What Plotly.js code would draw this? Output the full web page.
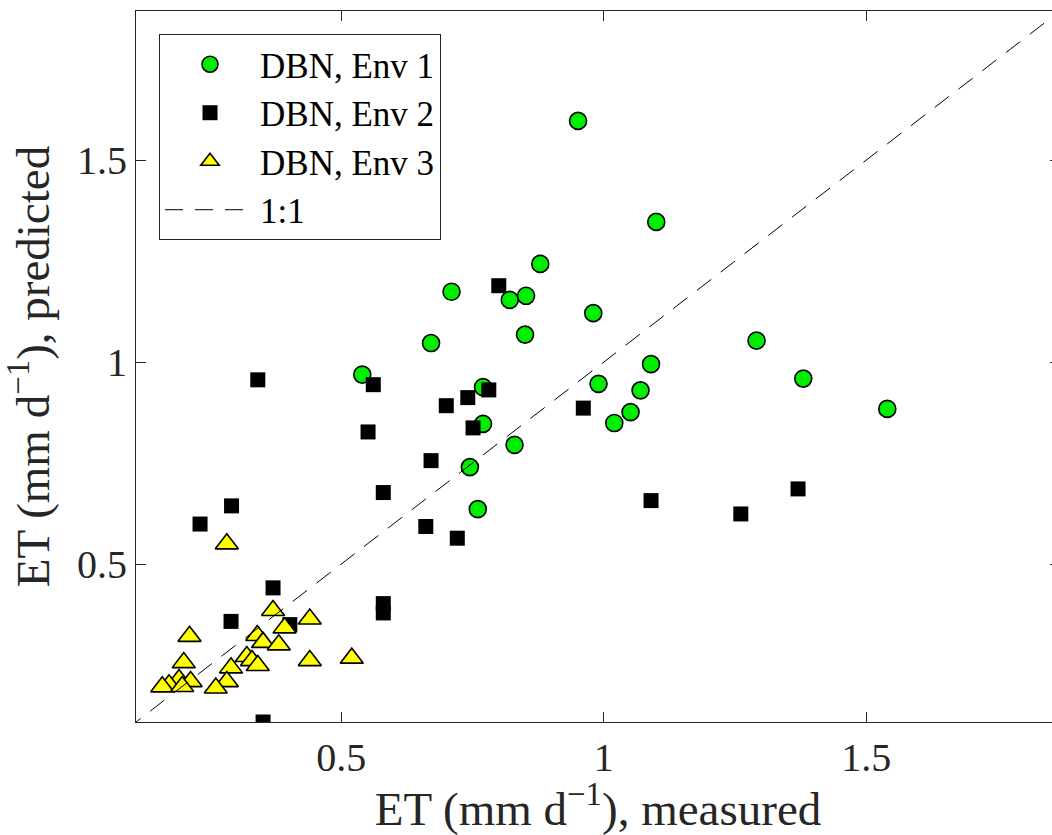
<!DOCTYPE html>
<html>
<head>
<meta charset="utf-8">
<script src="https://cdn.plot.ly/plotly-3.0.1.min.js"></script>
<style>
html,body{margin:0;padding:0;overflow:hidden;background:#fff;}
#chart{width:1061px;height:835px;}
</style>
</head>
<body>
<div id="chart"></div>
<script>
// Env 1 (green circles)
const env1X = [0.951,1.100,0.879,0.710,0.821,0.852,0.850,0.980,0.671,1.291,0.540,1.090,1.380,0.990,1.070,1.051,1.020,1.540,0.770,0.770,0.830,0.745,0.760];
const env1Y = [1.597,1.347,1.243,1.174,1.154,1.164,1.068,1.121,1.047,1.053,0.969,0.995,0.959,0.946,0.930,0.876,0.849,0.884,0.938,0.847,0.795,0.740,0.636];
// Env 2 (black squares)
const env2X = [0.561,0.781,0.741,0.700,0.751,0.551,0.671,0.580,0.661,0.721,0.961,0.800,0.341,1.090,1.261,1.370,0.291,0.231,0.370,0.290,0.402,0.580,0.580,0.351];
const env2Y = [0.944,0.931,0.912,0.892,0.837,0.827,0.756,0.677,0.593,0.564,0.886,1.189,0.956,0.657,0.624,0.686,0.644,0.599,0.441,0.358,0.350,0.402,0.379,0.109];
// Env 3 (yellow triangles)
const env3X = [0.282,0.370,0.440,0.211,0.392,0.340,0.351,0.381,0.200,0.290,0.320,0.330,0.341,0.440,0.520,0.191,0.213,0.282,0.261,0.172,0.159,0.197];
const env3Y = [0.550,0.385,0.364,0.321,0.342,0.323,0.306,0.300,0.256,0.243,0.271,0.261,0.249,0.261,0.267,0.214,0.209,0.209,0.193,0.201,0.196,0.197];
// 1:1 line
const oneToOne = [0, 2];
const tickVals = [0.5, 1, 1.5];
const tickText = ['0.5', '1', '1.5'];
const names = ['DBN, Env 1', 'DBN, Env 2', 'DBN, Env 3', '1:1'];

const axisColor = '#262626';
const serif = 'Liberation Serif';

const traces = [
  {x: env1X, y: env1Y, type: 'scatter', mode: 'markers', name: names[0],
   marker: {symbol: 'circle', size: 17, color: '#00ee00', line: {color: '#000', width: 1.6}}},
  {x: env2X, y: env2Y, type: 'scatter', mode: 'markers', name: names[1],
   marker: {symbol: 'square', size: 15, color: '#000', line: {width: 0}}},
  {x: env3X, y: env3Y, type: 'scatter', mode: 'markers', name: names[2],
   marker: {symbol: 'triangle-up', size: 20, color: '#ffff00', line: {color: '#000', width: 1.6}}},
  {x: oneToOne, y: oneToOne, type: 'scatter', mode: 'lines', name: names[3],
   line: {color: '#000', width: 1, dash: '18px,12px'}}
];

const axisCommon = {
  range: [0.109, 1.869],
  tickvals: tickVals, ticktext: tickText,
  ticks: 'inside', ticklen: 10, tickwidth: 1, tickcolor: axisColor,
  showline: true, linecolor: axisColor, linewidth: 1, mirror: 'ticks',
  showgrid: false, zeroline: false,
  tickfont: {family: serif, size: 40, color: axisColor},
  automargin: false
};

const layout = {
  width: 1061, height: 835,
  margin: {l: 136, r: 1, t: 11, b: 113},
  paper_bgcolor: '#fff', plot_bgcolor: '#fff',
  showlegend: true,
  font: {family: serif},
  xaxis: Object.assign({}, axisCommon, {
    title: {text: 'ET (mm d<sup>\u22121</sup>), measured', font: {family: serif, size: 47, color: axisColor}, standoff: 18}
  }),
  yaxis: Object.assign({}, axisCommon, {
    title: {text: 'ET (mm d<sup>\u22121</sup>), predicted', font: {family: serif, size: 47, color: axisColor}, standoff: 22}
  }),
  legend: {
    x: 0.0249, y: 0.9677, xanchor: 'left', yanchor: 'top',
    bgcolor: '#fff', bordercolor: axisColor, borderwidth: 1,
    font: {family: serif, size: 35, color: '#000'},
    itemwidth: 90, tracegroupgap: 0
  }
};

Plotly.newPlot('chart', traces, layout, {displayModeBar: false, staticPlot: true});
</script>
</body>
</html>
